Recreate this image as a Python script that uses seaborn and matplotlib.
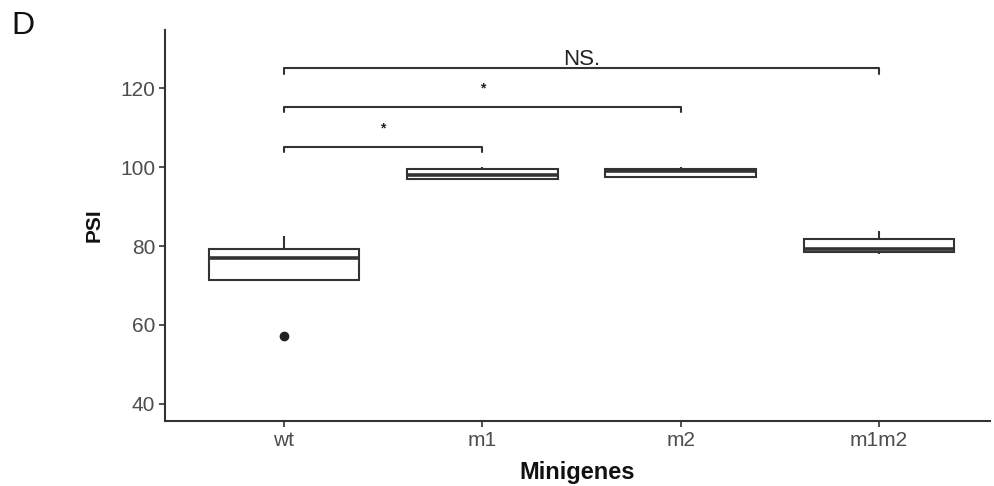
import matplotlib

matplotlib.use('Agg')
import matplotlib.pyplot as plt
import seaborn as sns
import pandas as pd

# 读图估计的每组数值
groups = ["wt", "m1", "m2", "m1m2"]
wt_vals = [57.2, 71.4, 77.05, 79.2, 82.5]
m1_vals = [96.9, 96.9, 98.0, 99.5, 100.1]
m2_vals = [97.6, 97.6, 98.9, 99.4, 100.0]
m1m2_vals = [77.9, 78.6, 79.2, 81.8, 83.9]

# 显著性标注: (组1, 组2, 高度, 文本)
sig_pairs = [("wt", "m1", 105.1, "*"), ("wt", "m2", 115.2, "*"), ("wt", "m1m2", 125.0, "NS.")]
y_ticks = [40, 60, 80, 100, 120]

df = pd.DataFrame({
    "Minigenes": sum([[g] * 5 for g in groups], []),
    "PSI": wt_vals + m1_vals + m2_vals + m1m2_vals,
})

sns.set_style("white")
plt.rcParams['font.family'] = ['Liberation Sans', 'DejaVu Sans']

fig = plt.figure(figsize=(9.94, 4.86), dpi=100)
ax = fig.add_axes([0.166, 0.134, 0.830, 0.804])

sns.boxplot(data=df, x="Minigenes", y="PSI", order=groups, color="white",
            linecolor="#333333", linewidth=1.5, width=0.76, showcaps=False,
            flierprops=dict(marker='o', markerfacecolor='#222222',
                            markeredgecolor='#222222', markersize=6),
            medianprops=dict(linewidth=2.6, color='#333333'), ax=ax)

# 显著性括号
pos = {g: i for i, g in enumerate(groups)}
for g1, g2, h, txt in sig_pairs:
    x1, x2 = pos[g1], pos[g2]
    ax.plot([x1, x1, x2, x2], [h - 1.3, h, h, h - 1.3], color="#333333", lw=1.5)
    if txt == "*":
        ax.text((x1 + x2) / 2, h + 3.0, txt, ha='center', va='bottom', fontsize=10,
                fontweight='bold', color="#222222")
    else:
        ax.text((x1 + x2) / 2, h - 0.4, txt, ha='center', va='bottom', fontsize=16, color="#222222")

ax.set_ylim(35.7, 134.7)
ax.set_xlim(-0.6, 3.56)
ax.set_yticks(y_ticks)
ax.tick_params(axis='both', colors='#333333', labelcolor='#4d4d4d', labelsize=15,
               length=4, width=1.2, direction='out', left=True, bottom=True, pad=3)
for s in ["top", "right"]:
    ax.spines[s].set_visible(False)
for s in ["left", "bottom"]:
    ax.spines[s].set_color("#333333")
    ax.spines[s].set_linewidth(1.5)

ax.set_xlabel("Minigenes", fontsize=17, fontweight='bold', color='#111111', labelpad=8)
ax.set_ylabel("PSI", fontsize=15, fontweight='bold', color='#111111', labelpad=12)

fig.text(0.011, 0.93, "D", fontsize=23, color='#111111')

plt.savefig("out.png", dpi=100)
plt.close()
